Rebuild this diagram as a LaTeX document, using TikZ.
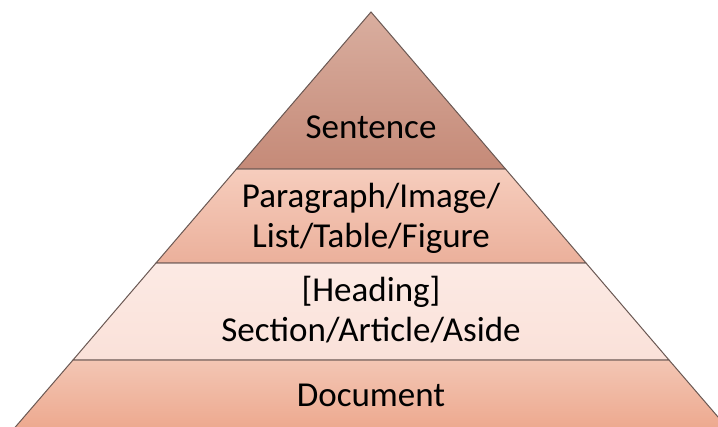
\documentclass[tikz,border=0pt]{standalone}
\usepackage{fontspec}
\setmainfont{Carlito}
\begin{document}
\begin{tikzpicture}[x=1pt,y=-1pt,
  layer/.style={draw=edgegray,line width=1pt,line join=miter},
  label/.style={font=\fontsize{35}{40}\selectfont,align=center,inner sep=0pt,text=black}]
\definecolor{edgegray}{HTML}{6A5853}
\definecolor{topA}{HTML}{D9AE9F}
\definecolor{topB}{HTML}{C58A78}
\definecolor{parA}{HTML}{F6CDBD}
\definecolor{parB}{HTML}{EBB09B}
\definecolor{secA}{HTML}{FCEAE4}
\definecolor{secB}{HTML}{FAE1D9}
\definecolor{docA}{HTML}{F3C6B4}
\definecolor{docB}{HTML}{EDA98F}
\useasboundingbox (0,0) rectangle (718,427);
\clip (0,0) rectangle (718,427);
% corner points of the pyramid layers
\coordinate (apex) at (371,12);
\coordinate (l1) at (236.5,169); \coordinate (r1) at (505.5,169);
\coordinate (l2) at (156,263);   \coordinate (r2) at (586,263);
\coordinate (l3) at (73,360);    \coordinate (r3) at (669,360);
\coordinate (l4) at (14.5,428);  \coordinate (r4) at (727.5,428);
% layers, bottom to top
\draw[layer,top color=docA,bottom color=docB] (l3) -- (r3) -- (r4) -- (l4) -- cycle;
\draw[layer,top color=secA,bottom color=secB] (l2) -- (r2) -- (r3) -- (l3) -- cycle;
\draw[layer,top color=parA,bottom color=parB] (l1) -- (r1) -- (r2) -- (l2) -- cycle;
\draw[layer,top color=topA,bottom color=topB] (apex) -- (r1) -- (l1) -- cycle;
% labels
\node[label,anchor=base] (sentence) at (371,139) {Sentence};
\node[label] (paragraph) at (371,218) {Paragraph/Image/\\List/Table/Figure};
\node[label] (section) at (371,310) {[Heading]\\Section/Article/Aside};
\node[label,anchor=base] (document) at (371,407) {Document};
\end{tikzpicture}
\end{document}
